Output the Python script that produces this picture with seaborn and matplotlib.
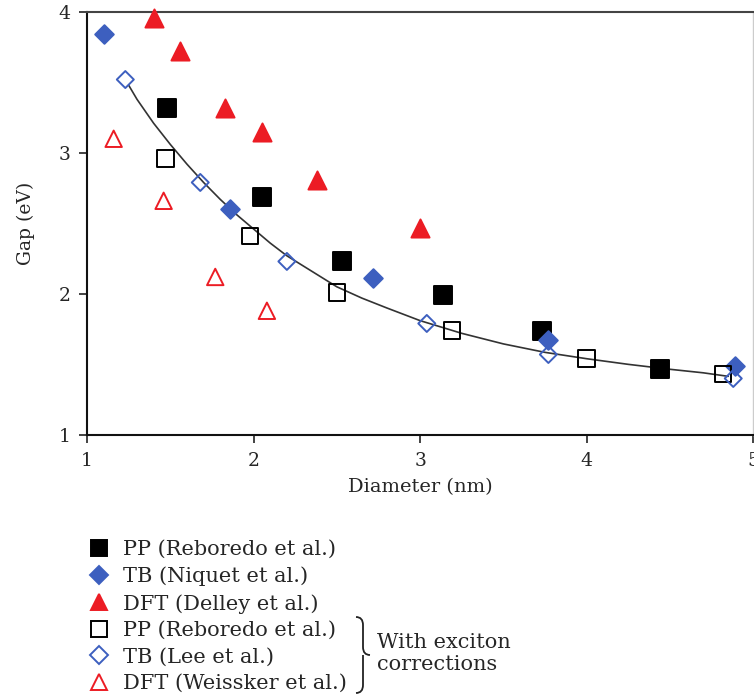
import matplotlib
matplotlib.use("Agg")
import matplotlib.pyplot as plt
import matplotlib.patches as mpatches
from matplotlib.lines import Line2D
from matplotlib.path import Path
import seaborn as sns

# PP (Reboredo et al.)
pp_d = [1.48, 2.05, 2.53, 3.14, 3.73, 4.44]
pp_gap = [3.32, 2.69, 2.23, 1.99, 1.74, 1.47]
# TB (Niquet et al.)
tb_d = [1.10, 1.86, 2.72, 3.77, 4.89]
tb_gap = [3.84, 2.60, 2.11, 1.67, 1.49]
# DFT (Delley et al.)
dft_d = [1.40, 1.56, 1.83, 2.05, 2.38, 3.00]
dft_gap = [3.96, 3.72, 3.32, 3.15, 2.81, 2.47]
# with exciton corrections
ppx_d = [1.47, 1.98, 2.50, 3.19, 4.00, 4.82]
ppx_gap = [2.96, 2.41, 2.01, 1.74, 1.54, 1.43]
tbx_d = [1.23, 1.68, 2.20, 3.04, 3.77, 4.88]
tbx_gap = [3.52, 2.79, 2.23, 1.79, 1.57, 1.40]
dftx_d = [1.16, 1.46, 1.77, 2.08]
dftx_gap = [3.10, 2.66, 2.12, 1.88]
# fitted curve
fit_d = [1.25, 1.3, 1.4, 1.5, 1.6, 1.7, 1.8, 1.9, 2.0, 2.1, 2.2, 2.35, 2.5, 2.65, 2.8, 3.0,
         3.25, 3.5, 3.75, 4.0, 4.25, 4.5, 4.7, 4.85]
fit_gap = [3.48, 3.38, 3.21, 3.06, 2.92, 2.79, 2.67, 2.56, 2.46, 2.36, 2.27, 2.16, 2.05, 1.97,
           1.90, 1.81, 1.72, 1.645, 1.585, 1.54, 1.50, 1.465, 1.44, 1.415]

labels = ["PP (Reboredo et al.)", "TB (Niquet et al.)", "DFT (Delley et al.)",
          "PP (Reboredo et al.)", "TB (Lee et al.)", "DFT (Weissker et al.)"]

BLUE = "#3d5fbf"
RED = "#ec1c24"

sns.set_style("ticks")
plt.rcParams["font.family"] = ["DejaVu Serif", "Liberation Serif"]

fig = plt.figure(figsize=(7.54, 6.98), dpi=100)
ax = fig.add_axes([0.1154, 0.377, 0.8836, 0.606])

sns.lineplot(x=fit_d, y=fit_gap, ax=ax, color="#333333", lw=1.2, zorder=2)

series = [
    (pp_d, pp_gap, "s", "black", "black", 150),
    (tb_d, tb_gap, "D", BLUE, BLUE, 90),
    (dft_d, dft_gap, "^", RED, RED, 170),
    (ppx_d, ppx_gap, "s", "none", "black", 140),
    (tbx_d, tbx_gap, "D", "none", BLUE, 75),
    (dftx_d, dftx_gap, "^", "none", RED, 140),
]
for d, g, m, fc, ec, s in series:
    sns.scatterplot(x=d, y=g, ax=ax, marker=m, s=s, facecolor=fc, edgecolor=ec,
                    linewidth=1.4, clip_on=False, zorder=3)

ax.set_xlim(1, 5)
ax.set_ylim(1, 4)
ax.set_xticks([1, 2, 3, 4, 5])
ax.set_yticks([1, 2, 3, 4])
ax.tick_params(labelsize=13.5, length=6, width=1.2, color="#222222", pad=6)
ax.set_xlabel("Diameter (nm)", fontsize=14, labelpad=6)
ax.set_ylabel("Gap (eV)", fontsize=13.5, labelpad=17)
for side in ["left", "bottom"]:
    ax.spines[side].set_linewidth(1.5)
    ax.spines[side].set_color("#111111")
ax.spines["top"].set_visible(True)
ax.spines["top"].set_color("#444444")
ax.spines["top"].set_linewidth(1.5)
ax.spines["right"].set_visible(True)
ax.spines["right"].set_color("#cccccc")
ax.spines["right"].set_linewidth(1.0)

handles = []
for d, g, m, fc, ec, s in series:
    handles.append(Line2D([], [], ls="none", marker=m, markersize=11 if m != "D" else 9,
                          markerfacecolor=fc, markeredgecolor=ec, markeredgewidth=1.4))
fig.legend(handles, labels, loc="upper left", bbox_to_anchor=(0.104, 0.241),
           bbox_transform=fig.transFigure, frameon=False, fontsize=15,
           handletextpad=0.65, labelspacing=0.36, handlelength=1.0, borderpad=0)

# curly brace grouping the exciton-corrected series (figure pixels)
W, H = 754, 698
x0, ytop, ybot, w = 356, 617, 693, 14
ym = (ytop + ybot) / 2
pts = [(x0, ytop), (x0 + w / 2, ytop), (x0 + w / 2, ytop + 8),
       (x0 + w / 2, ym - 8), (x0 + w / 2, ym), (x0 + w, ym),
       (x0 + w / 2, ym), (x0 + w / 2, ym + 8), (x0 + w / 2, ybot - 8),
       (x0 + w / 2, ybot), (x0, ybot)]
pts = [(px / W, 1 - py / H) for px, py in pts]
codes = [Path.MOVETO, Path.CURVE3, Path.CURVE3, Path.LINETO, Path.CURVE3, Path.CURVE3,
         Path.MOVETO, Path.CURVE3, Path.LINETO, Path.CURVE3, Path.CURVE3]
fig.patches.append(mpatches.PathPatch(Path(pts, codes), transform=fig.transFigure,
                                      fill=False, lw=1.3, color="#222222"))
fig.text(377 / W, 1 - 654 / H, "With exciton\ncorrections", fontsize=15,
         va="center", ha="left", linespacing=1.2)

fig.savefig("out.png", dpi=100)
